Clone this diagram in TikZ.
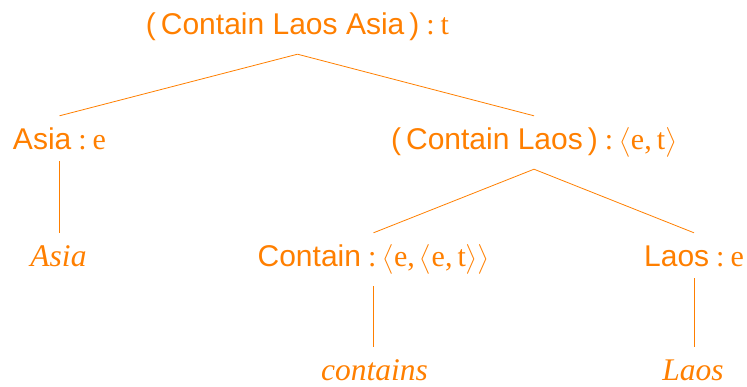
\documentclass[tikz,border=0pt]{standalone}
\usepackage{amsmath}
\usepackage{fontspec}
\setmainfont{Liberation Serif}
\setsansfont{Liberation Sans}
\definecolor{tor}{RGB}{255,127,0}
\newcommand{\tcol}{\hspace{7pt}:\hspace{6pt}}
\newcommand{\la}{$\bigl\langle$}
\newcommand{\ra}{$\bigr\rangle$}
\tikzset{
  lab/.style={text=tor, font=\fontsize{30}{34}\selectfont, anchor=base,
    inner xsep=0pt, inner ysep=12pt, text height=21pt, text depth=8pt},
  labflat/.style={lab, text depth=0pt},
  word/.style={lab, font=\fontsize{31.5}{34}\selectfont\itshape},
  edge/.style={draw=tor, line width=0.8pt}
}
\begin{document}
\begin{tikzpicture}[x=1pt,y=-1pt]
\useasboundingbox (0,0) rectangle (747,386);
\node[lab] (top) at (297.5,34) {{\sffamily(\,Contain Laos Asia\,)}\tcol t};
\node[labflat] (asiae) at (59.5,149) {{\sffamily Asia}\tcol e};
\node[lab] (cl) at (534,149) {{\sffamily(\,Contain Laos\,)}\tcol\la e,\,t\ra};
\node[word] (asia) at (58.5,266) {Asia};
\node[lab] (contain) at (373.5,266) {{\sffamily Contain}\tcol\la e,\,\la e,\,t\ra\ra};
\node[labflat] (laose) at (694,266) {{\sffamily Laos}\tcol e};
\node[word] (contains) at (374.5,380) {contains};
\node[word] (laos) at (693,380) {Laos};
\draw[edge] (top.south) -- (asiae.north);
\draw[edge] (top.south) -- (cl.north);
\draw[edge] (cl.south) -- (contain.north);
\draw[edge] (cl.south) -- (laose.north);
\draw[edge] (asiae.south) -- (asiae.south |- asia.north);
\draw[edge] (contain.south) -- (contain.south |- contains.north);
\draw[edge] (laose.south) -- (laose.south |- laos.north);
\end{tikzpicture}
\end{document}
